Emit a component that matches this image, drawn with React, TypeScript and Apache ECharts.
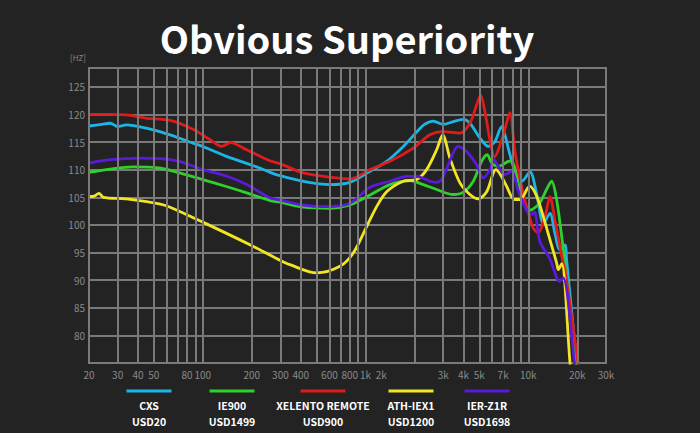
import React, { useEffect, useRef } from "react";
import * as echarts from "echarts";

const TITLE = "Obvious Superiority";
const UNIT = "[HZ]";
const BG = "#232323";
const GRID = "#7a7a7a";
const LABEL = "#8a8a8a";
const FONT = "'Noto Sans CJK SC', 'Noto Sans', sans-serif";

const names = ["CXS", "IE900", "XELENTO REMOTE", "ATH-IEX1", "IER-Z1R"];
const prices = ["USD20", "USD1499", "USD900", "USD1200", "USD1698"];
const colors = ["#1cb6e6", "#2fd12b", "#e01b1b", "#f3e524", "#5a1bd8"];

const cxs: [number, number][] = [
  [20, 117.9], [24, 118.2], [27, 118.4], [30, 117.8], [34, 118.1], [45, 117.5], [63, 116.3],
  [87, 114.8], [100, 114.2], [140, 112.4], [224, 110.3], [259, 109.5], [298, 108.9], [414, 107.9],
  [604, 107.3], [802, 107.7], [1064, 109.7], [1348, 111.5], [1706, 114.2], [2060, 116.8],
  [2300, 118.2], [2606, 118.8], [3000, 118.2], [3458, 118.7], [3981, 119.1], [4376, 118.4],
  [5046, 115.7], [5676, 114.2], [6238, 115.1], [6856, 117.8], [7180, 116.3], [7710, 112.7],
  [8472, 108.8], [9098, 107.9], [10234, 109.6], [11246, 105.6], [12360, 100.3], [13584, 102.1],
  [14556, 98.5], [15632, 95.5], [16790, 96.4], [17180, 93.7], [19816, 75], [20600, 70],
];

const ie900: [number, number][] = [
  [20, 109.5], [27, 110.1], [37, 110.5], [54, 110.3], [72, 109.4], [100, 108.2], [141, 106.9],
  [186, 105.8], [259, 104.4], [298, 104.1], [414, 103.2], [604, 103.0], [802, 103.6], [1064, 105.4],
  [1412, 107.3], [1874, 108.0], [2260, 107.3], [2734, 106.4], [3458, 105.5], [3981, 105.9],
  [4590, 107.9], [5164, 111.5], [5586, 112.7], [5958, 111.2], [6532, 110.6], [7534, 111.5],
  [7890, 111.6], [8472, 109.1], [9312, 104.3], [10000, 102.6], [10716, 102.9], [11776, 104],
  [12942, 106.4], [13900, 107.9], [14928, 104.5], [16034, 97.9], [16790, 93.1], [19600, 75], [20400, 70],
];

const xelento: [number, number][] = [
  [20, 120], [27, 120], [34, 119.9], [45, 119.3], [63, 118.9], [87, 117.3], [111, 115.4],
  [131, 114.2], [148, 114.9], [186, 113.6], [259, 111.6], [298, 111.1], [414, 109.4], [664, 108.5],
  [802, 108.3], [1064, 110], [1412, 111.5], [1964, 113.9], [2488, 116.3], [3000, 116.9],
  [3800, 116.6], [4376, 118.4], [4810, 121.7], [5094, 123.5], [5408, 120.5], [5800, 115.5],
  [6200, 112.3], [7016, 116.3], [7700, 120.3], [8272, 113.3], [9312, 105.5], [9980, 102.4],
  [10716, 99.4], [11508, 98.6], [12648, 101.5], [13584, 105.1], [14556, 100.9], [15632, 96.1],
  [16370, 93.1], [16790, 92], [20180, 75], [20900, 70],
];

const athIex1: [number, number][] = [
  [20, 105.1], [21.5, 105.2], [23, 105.7], [24.5, 105.0], [34, 104.7], [54, 103.8], [63, 103.2],
  [100, 100.5], [195, 96.4], [298, 93.6], [343, 92.8], [500, 91.3], [696, 92.5], [840, 94.9],
  [1016, 99.7], [1170, 103.3], [1348, 106], [1706, 107.9], [2060, 108.2], [2372, 110],
  [2734, 113.6], [2978, 116.3], [3298, 112.1], [3800, 107.6], [4376, 105.5], [4920, 104.7],
  [5546, 106], [6324, 110], [6700, 109.2], [7350, 107], [8200, 104.6], [8900, 104.6],
  [10200, 107], [11246, 105.2], [12360, 101.5], [13584, 97.3], [14928, 93.1], [15276, 91.9],
  [16034, 93.0], [18030, 75], [18800, 70],
];

const ierZ1r: [number, number][] = [
  [20, 111.2], [27, 111.8], [41, 112.1], [55, 112], [72, 111.5], [100, 110], [141, 108.8],
  [186, 107.3], [259, 104.9], [298, 104.5], [414, 103.6], [547, 103.3], [802, 103.9], [1064, 106.8],
  [1412, 107.9], [1788, 108.8], [2060, 108.8], [2488, 107.9], [2734, 107.7], [2950, 108.3],
  [3222, 110.9], [3708, 114.2], [4178, 113.3], [4810, 110.9], [5284, 108.5], [5808, 110],
  [6152, 111.8], [6532, 110.6], [7180, 109.1], [7890, 109.7], [8670, 106.2], [9774, 102.6],
  [10400, 101.9], [10900, 102.3], [11776, 97], [13584, 93.8], [15000, 90.3], [15490, 89.8],
  [16370, 90.4], [19200, 75], [20000, 70],
];

const seriesData = [cxs, ie900, xelento, athIex1, ierZ1r];

const gridFreqs = [
  20, 30, 40, 50, 60, 70, 80, 90, 100, 200, 300, 400, 500, 600, 700, 800, 900, 1000,
  2000, 3000, 4000, 5000, 6000, 7000, 8000, 9000, 10000, 20000, 30000,
];
const xTickLabels: [number, string][] = [
  [20, "20"], [30, "30"], [40, "40"], [50, "50"], [80, "80"], [100, "100"], [200, "200"],
  [300, "300"], [400, "400"], [600, "600"], [800, "800"], [1000, "1k"], [1250, "2k"],
  [3000, "3k"], [4000, "4k"], [5000, "5k"], [7000, "7k"], [10000, "10k"], [20000, "20k"], [30000, "30k"],
];
const yTickLabels = [80, 85, 90, 95, 100, 105, 110, 115, 120, 125];

const legendCenters = [149, 232, 323, 411, 487];

export default function App() {
  const ref = useRef<HTMLDivElement>(null);
  useEffect(() => {
    document.body.style.margin = "0";
    document.body.style.background = BG;
    const chart = echarts.init(ref.current!, null, { renderer: "svg" });

    const markData: any[] = [
      ...gridFreqs.map((f) => ({ xAxis: f, label: { show: false } })),
      ...xTickLabels.map(([f, t]) => ({
        xAxis: f,
        lineStyle: { color: "rgba(0,0,0,0)", width: 0 },
        label: {
          show: true,
          formatter: t,
          position: "start",
          distance: 6,
          color: LABEL,
          fontSize: 10,
          fontFamily: FONT,
        },
      })),
    ];

    const legendText = (text: string, x: number, y: number) => ({
      type: "text",
      x,
      y,
      style: {
        text,
        fill: "#ffffff",
        fontSize: 10.5,
        fontWeight: "bold",
        fontFamily: FONT,
        align: "center",
        verticalAlign: "middle",
      },
    });

    const legendGraphics: any[] = [];
    names.forEach((n, i) => {
      const c = legendCenters[i];
      legendGraphics.push({
        type: "line",
        shape: { x1: c - 22.5, y1: 391, x2: c + 22.5, y2: 391 },
        style: { stroke: colors[i], lineWidth: 3 },
      });
      legendGraphics.push(legendText(n, c, 405.8));
      legendGraphics.push(legendText(prices[i], c, 421.4));
    });

    const option: any = {
      animation: false,
      backgroundColor: BG,
      grid: {
        left: 89,
        right: 94,
        top: 68,
        bottom: 70,
        show: true,
        borderColor: GRID,
        borderWidth: 2,
        backgroundColor: "transparent",
      },
      xAxis: {
        type: "log",
        logBase: 10,
        min: 20,
        max: 30000,
        axisLine: { show: false },
        axisTick: { show: false },
        axisLabel: { show: false },
        splitLine: { show: false },
      },
      yAxis: {
        type: "value",
        min: 75,
        max: 128.4,
        interval: 5,
        axisLine: { show: false },
        axisTick: { show: false },
        splitLine: { lineStyle: { color: GRID, width: 2 } },
        axisLabel: {
          color: LABEL,
          fontSize: 10,
          fontFamily: FONT,
          margin: 4,
          formatter: (v: number) => (yTickLabels.includes(v) ? String(v) : ""),
        },
      },
      graphic: [
        {
          type: "text",
          x: 347,
          y: 37,
          style: {
            text: TITLE,
            fill: "#ffffff",
            fontSize: 38,
            fontWeight: "bold",
            fontFamily: FONT,
            align: "center",
            verticalAlign: "middle",
          },
        },
        {
          type: "text",
          x: 78,
          y: 57,
          style: {
            text: UNIT,
            fill: LABEL,
            fontSize: 8,
            fontFamily: FONT,
            align: "center",
            verticalAlign: "middle",
          },
        },
        ...legendGraphics,
      ],
      series: [
        {
          type: "line",
          name: "grid",
          data: [],
          z: 1,
          silent: true,
          markLine: {
            silent: true,
            symbol: ["none", "none"],
            animation: false,
            lineStyle: { color: GRID, width: 2, type: "solid" },
            label: { show: false },
            data: markData,
          },
        },
        ...names.map((n, i) => ({
          type: "line",
          name: n,
          data: seriesData[i],
          smooth: 0.3,
          showSymbol: false,
          z: 3,
          lineStyle: { color: colors[i], width: 2.8 },
          itemStyle: { color: colors[i] },
        })),
      ],
    };
    chart.setOption(option);
    return () => chart.dispose();
  }, []);
  return <div ref={ref} style={{ width: 700, height: 433 }} />;
}
